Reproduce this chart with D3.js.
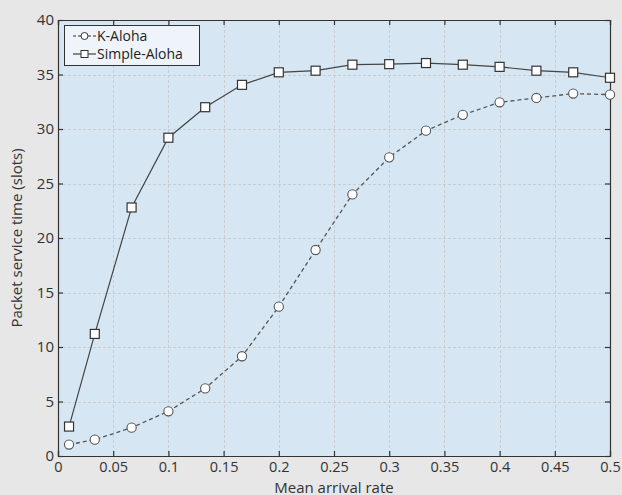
<!DOCTYPE html>
<html>
<head>
<meta charset="utf-8">
<script src="https://cdn.jsdelivr.net/npm/d3@7"></script>
<style>
  html, body { margin: 0; padding: 0; background: #e7e7e7; }
  svg { display: block; }
  text { font-family: "Open Sans", "Noto Sans", sans-serif; }
</style>
</head>
<body>
<svg id="chart" width="622" height="495"></svg>
<script>
// ---- data ----
const arrivalRates = [0.01, 1/30, 2/30, 3/30, 4/30, 5/30, 6/30, 7/30, 8/30, 9/30, 10/30, 11/30, 12/30, 13/30, 14/30, 15/30];
const kAloha      = [1.05, 1.5, 2.6, 4.1, 6.2, 9.15, 13.7, 18.9, 24.0, 27.4, 29.85, 31.3, 32.45, 32.85, 33.25, 33.15];
const simpleAloha = [2.7, 11.2, 22.8, 29.2, 32.0, 34.05, 35.2, 35.35, 35.9, 35.95, 36.05, 35.9, 35.7, 35.35, 35.2, 34.7];
const xTicks = [0, 0.05, 0.1, 0.15, 0.2, 0.25, 0.3, 0.35, 0.4, 0.45, 0.5];
const yTicks = [0, 5, 10, 15, 20, 25, 30, 35, 40];
const seriesNames = ["K-Aloha", "Simple-Aloha"];
const xTitle = "Mean arrival rate";
const yTitle = "Packet service time (slots)";

// ---- layout ----
const svg = d3.select("#chart");
const L = 58, R = 610, T = 20, B = 456;
const FS = 15;
const x = d3.scaleLinear().domain([0, 0.5]).range([L, R]);
const y = d3.scaleLinear().domain([0, 40]).range([B, T]);

svg.append("rect").attr("width", 622).attr("height", 495).attr("fill", "#e7e7e7");
svg.append("rect").attr("x", L).attr("y", T).attr("width", R - L).attr("height", B - T).attr("fill", "#d6e7f3");

// grid
const grid = svg.append("g").attr("stroke", "#c9cdd2").attr("stroke-width", 1).attr("stroke-dasharray", "3,2");
grid.selectAll(".gx").data(xTicks.slice(1, -1)).join("line")
  .attr("x1", d => Math.round(x(d)) + 0.5).attr("x2", d => Math.round(x(d)) + 0.5)
  .attr("y1", T).attr("y2", B);
grid.selectAll(".gy").data(yTicks.slice(1, -1)).join("line")
  .attr("y1", d => Math.round(y(d)) + 0.5).attr("y2", d => Math.round(y(d)) + 0.5)
  .attr("x1", L).attr("x2", R);

// axes
const fmtX = d => d === 0 ? "0" : String(+d.toFixed(2));
const xAxis = d3.axisBottom(x).tickValues(xTicks).tickSize(-5).tickPadding(6).tickFormat(fmtX);
const yAxis = d3.axisLeft(y).tickValues(yTicks).tickSize(-5).tickPadding(4).tickFormat(d3.format("d"));
const xTop = d3.axisTop(x).tickValues(xTicks).tickSize(-5).tickFormat("");
const yRight = d3.axisRight(y).tickValues(yTicks).tickSize(-5).tickFormat("");

function style(g, fs) {
  g.selectAll("path").attr("stroke", "#333").attr("stroke-width", 1.2);
  g.selectAll("line").attr("stroke", "#333").attr("stroke-width", 1.2);
  g.selectAll("text").attr("fill", "#333").attr("font-size", fs).attr("font-family", '"Open Sans", "Noto Sans", sans-serif');
}
svg.append("g").attr("transform", `translate(0,${B})`).call(xAxis).call(style, 14.5);
svg.append("g").attr("transform", `translate(${L},0)`).call(yAxis).call(style, FS);
svg.append("g").attr("transform", `translate(0,${T})`).call(xTop).call(style, FS);
svg.append("g").attr("transform", `translate(${R},0)`).call(yRight).call(style, FS);

// titles
svg.append("text").attr("x", (L + R) / 2).attr("y", 492.5).attr("text-anchor", "middle")
  .attr("font-size", FS).attr("fill", "#333").text(xTitle);
svg.append("text").attr("transform", `translate(22,${(T + B) / 2}) rotate(-90)`).attr("text-anchor", "middle")
  .attr("font-size", FS).attr("fill", "#333").text(yTitle);

// series
const kData = arrivalRates.map((r, i) => [r, kAloha[i]]);
const sData = arrivalRates.map((r, i) => [r, simpleAloha[i]]);
const line = d3.line().x(d => x(d[0])).y(d => y(d[1]));

svg.append("path").datum(kData).attr("d", line).attr("fill", "none")
  .attr("stroke", "#555").attr("stroke-width", 1.3).attr("stroke-dasharray", "4,3");
svg.append("path").datum(sData).attr("d", line).attr("fill", "none")
  .attr("stroke", "#444").attr("stroke-width", 1.2);

svg.append("g").selectAll("circle").data(kData).join("circle")
  .attr("cx", d => x(d[0])).attr("cy", d => y(d[1])).attr("r", 4.6)
  .attr("fill", "#fff").attr("stroke", "#555").attr("stroke-width", 1.1);
const sq = 9;
svg.append("g").selectAll("rect").data(sData).join("rect")
  .attr("x", d => x(d[0]) - sq / 2).attr("y", d => y(d[1]) - sq / 2)
  .attr("width", sq).attr("height", sq)
  .attr("fill", "#fff").attr("stroke", "#333").attr("stroke-width", 1.2);

// legend
const lg = svg.append("g");
lg.append("rect").attr("x", 64.5).attr("y", 25.5).attr("width", 135).attr("height", 40)
  .attr("fill", "#eef4f9").attr("stroke", "#333").attr("stroke-width", 1);
const items = [
  {name: seriesNames[0], dash: "3,2", marker: "circle", y: 36},
  {name: seriesNames[1], dash: null, marker: "rect", y: 54}
];
items.forEach(it => {
  lg.append("line").attr("x1", 73).attr("x2", 96).attr("y1", it.y).attr("y2", it.y)
    .attr("stroke", "#333").attr("stroke-width", 1.1).attr("stroke-dasharray", it.dash);
  if (it.marker === "circle") {
    lg.append("circle").attr("cx", 84.5).attr("cy", it.y).attr("r", 3.5)
      .attr("fill", "#fff").attr("stroke", "#333").attr("stroke-width", 1);
  } else {
    lg.append("rect").attr("x", 81).attr("y", it.y - 3.5).attr("width", 7).attr("height", 7)
      .attr("fill", "#fff").attr("stroke", "#333").attr("stroke-width", 1);
  }
  lg.append("text").attr("x", 97).attr("y", it.y + 4.5).attr("font-size", 14)
    .attr("fill", "#222").text(it.name);
});
</script>
</body>
</html>
